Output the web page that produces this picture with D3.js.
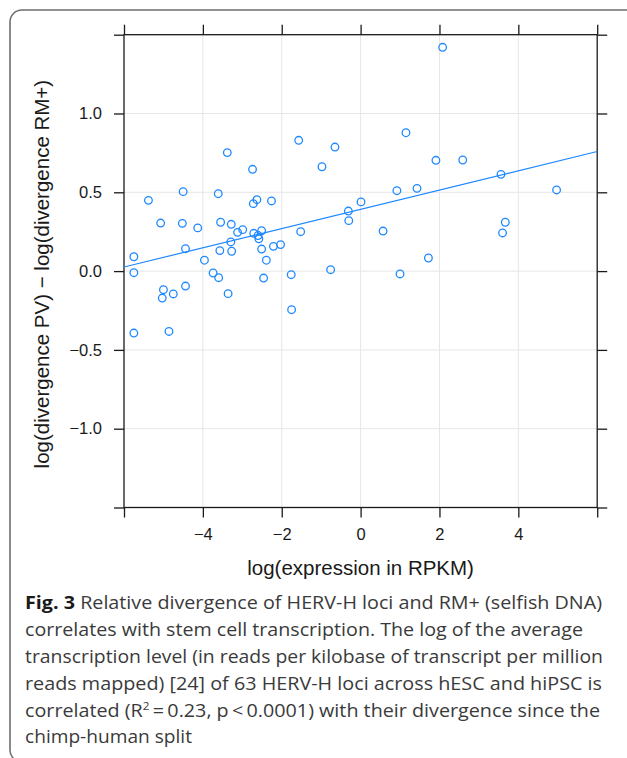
<!DOCTYPE html>
<html>
<head>
<meta charset="utf-8">
<script src="https://cdn.jsdelivr.net/npm/d3@7"></script>
<style>
  html, body { margin: 0; padding: 0; background: #fff; }
  svg { display: block; }
</style>
</head>
<body>
<svg id="chart" width="627" height="758"></svg>
<script>
// ---- data ----
const xValues = [-4.50, -3.61, -5.38, -2.72, -2.63, -2.26, -5.07, -4.52, -4.13, -3.55,
  -3.28, -3.12, -2.99, -2.71, -2.51, -2.60, -2.58, -3.29, -4.44, -3.57,
  -3.27, -2.51, -2.21, -2.03, -5.75, -3.96, -2.39, -1.52, -0.31, -0.30,
  0.01, -5.75, -3.74, -3.60, -2.46, -1.76, -0.76, -5.00, -5.03, -4.75,
  -4.44, -3.36, -1.75, -5.75, -4.86, -3.38, -2.74, -1.57, -0.98, -0.65,
  2.08, 1.15, 1.91, 2.59, 3.56, 0.92, 1.43, 4.97, 0.57, 3.67,
  3.60, 1.72, 1.00];
const yValues = [0.504, 0.491, 0.449, 0.428, 0.453, 0.445, 0.305, 0.303, 0.274, 0.310,
  0.297, 0.246, 0.263, 0.240, 0.256, 0.226, 0.205, 0.185, 0.142, 0.130,
  0.126, 0.140, 0.157, 0.168, 0.091, 0.069, 0.069, 0.250, 0.381, 0.320,
  0.439, -0.010, -0.012, -0.042, -0.044, -0.023, 0.009, -0.118, -0.171, -0.145,
  -0.095, -0.143, -0.245, -0.393, -0.383, 0.752, 0.646, 0.830, 0.662, 0.787,
  1.420, 0.878, 0.703, 0.705, 0.614, 0.510, 0.525, 0.515, 0.254, 0.310,
  0.242, 0.083, -0.018];
const fitX = [-6, 6];
const fitY = [0.026, 0.759];
const xTicks = [-6, -4, -2, 0, 2, 4, 6];
const xTickLabels = ["", "\u22124", "\u22122", "0", "2", "4", ""];
const yTicks = [-1.5, -1.0, -0.5, 0.0, 0.5, 1.0, 1.5];
const yTickLabels = ["", "\u22121.0", "\u22120.5", "0.0", "0.5", "1.0", ""];
const xTitle = "log(expression in RPKM)";
const yTitle = "log(divergence PV) \u2212 log(divergence RM+)";
const captionLines = [
  {bold: "Fig. 3", text: " Relative divergence of HERV-H loci and RM+ (selfish DNA)", width: 577},
  {text: "correlates with stem cell transcription. The log of the average", width: 558},
  {text: "transcription level (in reads per kilobase of transcript per million", width: 578},
  {text: "reads mapped) [24] of 63 HERV-H loci across hESC and hiPSC is", width: 577},
  {text: "correlated (R", sup: "2", after: "\u2009=\u20090.23, p\u2009<\u20090.0001) with their divergence since the", width: 575},
  {text: "chimp-human split", width: 167}
];

// ---- layout ----
const svg = d3.select("#chart");
const L = 124, R = 597.2, T = 34.7, B = 507.5;
const x = d3.scaleLinear().domain([-6, 6]).range([L, R]);
const y = d3.scaleLinear().domain([-1.5, 1.5]).range([B, T]);
const blue = "#1e88ff";
const axisFont = "'Liberation Sans', Arial, Helvetica, sans-serif";

// outer rounded box
svg.append("rect")
  .attr("x", 10).attr("y", 10).attr("width", 660).attr("height", 752)
  .attr("rx", 12).attr("fill", "none").attr("stroke", "#6e6e6e").attr("stroke-width", 1.6);

// grid
const g = svg.append("g");
g.selectAll("line.gx").data(xTicks.slice(1, -1)).join("line")
  .attr("x1", d => x(d)).attr("x2", d => x(d)).attr("y1", T).attr("y2", B)
  .attr("stroke", "#e6e6e6").attr("stroke-width", 1);
g.selectAll("line.gy").data(yTicks.slice(1, -1)).join("line")
  .attr("y1", d => y(d)).attr("y2", d => y(d)).attr("x1", L).attr("x2", R)
  .attr("stroke", "#e6e6e6").attr("stroke-width", 1);

// axes (ticks outward on all four sides)
const tickLen = 10;
const axStroke = "#1a1a1a";
function styleAxis(sel) {
  sel.select(".domain").remove();
  sel.selectAll(".tick line").attr("stroke", axStroke).attr("stroke-width", 1.3);
  sel.selectAll(".tick text").attr("fill", "#1a1a1a").style("font-family", axisFont).style("font-size", "16.5px");
}
const ax = d3.axisBottom(x).tickValues(xTicks).tickSize(tickLen).tickPadding(11)
  .tickFormat((d, i) => xTickLabels[i]);
svg.append("g").attr("transform", `translate(0,${B})`).call(ax).call(styleAxis);
svg.append("g").attr("transform", `translate(0,${T})`)
  .call(d3.axisTop(x).tickValues(xTicks).tickSize(tickLen).tickFormat(""))
  .call(styleAxis);
const ay = d3.axisLeft(y).tickValues(yTicks).tickSize(tickLen).tickPadding(12)
  .tickFormat((d, i) => yTickLabels[i]);
svg.append("g").attr("transform", `translate(${L},0)`).call(ay).call(styleAxis);
svg.append("g").attr("transform", `translate(${R},0)`)
  .call(d3.axisRight(y).tickValues(yTicks).tickSize(tickLen).tickFormat(""))
  .call(styleAxis);

// frame
svg.append("rect").attr("x", L).attr("y", T).attr("width", R - L).attr("height", B - T)
  .attr("fill", "none").attr("stroke", axStroke).attr("stroke-width", 1.3);

// regression line
svg.append("line")
  .attr("x1", x(fitX[0])).attr("y1", y(fitY[0]))
  .attr("x2", x(fitX[1])).attr("y2", y(fitY[1]))
  .attr("stroke", blue).attr("stroke-width", 1.2);

// points
svg.append("g").selectAll("circle").data(xValues.map((v, i) => [v, yValues[i]])).join("circle")
  .attr("cx", d => x(d[0])).attr("cy", d => y(d[1])).attr("r", 3.8)
  .attr("fill", "none").attr("stroke", blue).attr("stroke-width", 1.3);

// axis titles
svg.append("text").attr("x", (L + R) / 2).attr("y", 575)
  .attr("text-anchor", "middle").attr("fill", "#1a1a1a")
  .style("font-family", axisFont).style("font-size", "20.5px").text(xTitle);
svg.append("text").attr("transform", `translate(49,${(T + B) / 2 + 3}) rotate(-90)`)
  .attr("text-anchor", "middle").attr("fill", "#1a1a1a")
  .style("font-family", axisFont).style("font-size", "20.5px").text(yTitle);

// caption
const capFont = "'Open Sans', 'Noto Sans', sans-serif";
const cap = svg.append("g");
captionLines.forEach((ln, i) => {
  const t = cap.append("text").attr("x", 25).attr("y", 609.3 + i * 26.8)
    .attr("fill", "#3a3a3a").style("font-family", capFont).style("font-size", "18.5px")
    .attr("textLength", ln.width).attr("lengthAdjust", "spacingAndGlyphs");
  if (ln.bold) t.append("tspan").style("font-weight", "bold").attr("fill", "#1a1a1a").text(ln.bold);
  t.append("tspan").text(ln.text);
  if (ln.sup) {
    t.append("tspan").attr("dy", -7).style("font-size", "11px").text(ln.sup);
    t.append("tspan").attr("dy", 7).text(ln.after);
  }
});
</script>
</body>
</html>
